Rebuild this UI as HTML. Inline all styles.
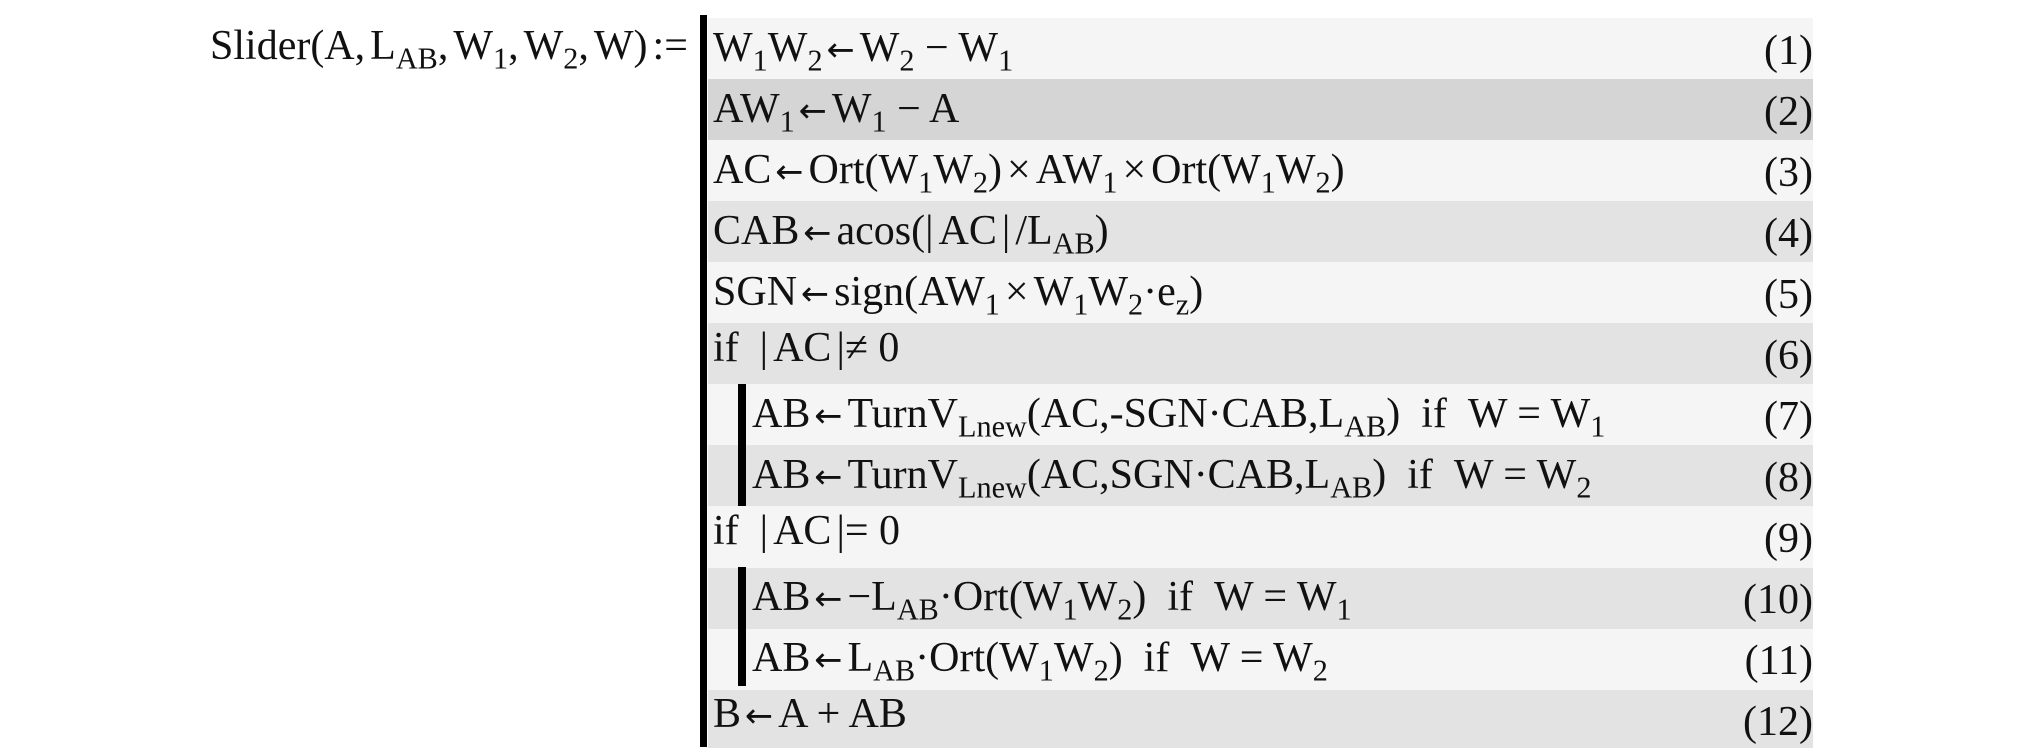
<!DOCTYPE html>
<html><head><meta charset="utf-8"><style>
body{margin:0;width:2020px;height:747px;background:#fff;position:relative;overflow:hidden;font-family:"Liberation Serif","DejaVu Serif",serif;color:#111}
.r{position:absolute;left:708px;width:1105px;height:62px}
.t{position:absolute;font-size:42px;line-height:61px;white-space:nowrap}
.n{position:absolute;right:207px;font-size:42px;line-height:61px;white-space:nowrap}
sub{font-size:0.72em;vertical-align:-0.32em;line-height:0}
.a{font-family:"DejaVu Sans",sans-serif;font-size:0.8em;margin:0 5px 0 4px}
.s{margin-right:5px}
.bar{position:absolute;background:#000}
</style></head><body>
<div class="r" style="top:17.6px;background:#f5f5f5"></div>
<div class="r" style="top:78.7px;background:#d5d5d5"></div>
<div class="r" style="top:139.8px;background:#f5f5f5"></div>
<div class="r" style="top:200.9px;background:#e3e3e3"></div>
<div class="r" style="top:262px;background:#f5f5f5"></div>
<div class="r" style="top:323.1px;background:#e3e3e3"></div>
<div class="r" style="top:384.2px;background:#f5f5f5"></div>
<div class="r" style="top:445.3px;background:#e3e3e3"></div>
<div class="r" style="top:506.4px;background:#f5f5f5"></div>
<div class="r" style="top:567.5px;background:#e3e3e3"></div>
<div class="r" style="top:628.6px;background:#f5f5f5"></div>
<div class="r" style="top:689.7px;background:#e3e3e3;height:58px"></div>

<div class="bar" style="left:700px;top:15px;width:7px;height:732px"></div>
<div class="bar" style="left:738px;top:384px;width:8px;height:122px"></div>
<div class="bar" style="left:738px;top:567px;width:8px;height:119px"></div>

<div class="t" style="left:210px;top:16px">Slider(A,<span class="s"></span>L<sub>AB</sub>,<span class="s"></span>W<sub>1</sub>,<span class="s"></span>W<sub>2</sub>,<span class="s"></span>W)<span class="s"></span>:=</div>

<div class="t" style="left:713px;top:18px">W<sub>1</sub>W<sub>2</sub><span class="a">←</span>W<sub>2</sub> − W<sub>1</sub></div>
<div class="t" style="left:713px;top:79px">AW<sub>1</sub><span class="a">←</span>W<sub>1</sub> − A</div>
<div class="t" style="left:713px;top:140px">AC<span class="a">←</span>Ort(W<sub>1</sub>W<sub>2</sub>)<span class="s"></span>×<span class="s"></span>AW<sub>1</sub><span class="s"></span>×<span class="s"></span>Ort(W<sub>1</sub>W<sub>2</sub>)</div>
<div class="t" style="left:713px;top:201px">CAB<span class="a">←</span>acos(|<span class="s"></span>AC<span class="s"></span>|<span class="s"></span>/L<sub>AB</sub>)</div>
<div class="t" style="left:713px;top:262px">SGN<span class="a">←</span>sign(AW<sub>1</sub><span class="s"></span>×<span class="s"></span>W<sub>1</sub>W<sub>2</sub>·e<sub>z</sub>)</div>
<div class="t" style="left:713px;top:318px">if &nbsp;|<span class="s"></span>AC<span class="s"></span>|≠ 0</div>
<div class="t" style="left:752px;top:384px">AB<span class="a">←</span>TurnV<sub>Lnew</sub>(AC,-SGN·CAB,L<sub>AB</sub>) &nbsp;if &nbsp;W = W<sub>1</sub></div>
<div class="t" style="left:752px;top:445px">AB<span class="a">←</span>TurnV<sub>Lnew</sub>(AC,SGN·CAB,L<sub>AB</sub>) &nbsp;if &nbsp;W = W<sub>2</sub></div>
<div class="t" style="left:713px;top:501px">if &nbsp;|<span class="s"></span>AC<span class="s"></span>|= 0</div>
<div class="t" style="left:752px;top:567px">AB<span class="a">←</span>−L<sub>AB</sub>·Ort(W<sub>1</sub>W<sub>2</sub>) &nbsp;if &nbsp;W = W<sub>1</sub></div>
<div class="t" style="left:752px;top:628px">AB<span class="a">←</span>L<sub>AB</sub>·Ort(W<sub>1</sub>W<sub>2</sub>) &nbsp;if &nbsp;W = W<sub>2</sub></div>
<div class="t" style="left:713px;top:684px">B<span class="a">←</span>A + AB</div>

<div class="n" style="top:21px">(1)</div>
<div class="n" style="top:82px">(2)</div>
<div class="n" style="top:143px">(3)</div>
<div class="n" style="top:204px">(4)</div>
<div class="n" style="top:265px">(5)</div>
<div class="n" style="top:326px">(6)</div>
<div class="n" style="top:387px">(7)</div>
<div class="n" style="top:448px">(8)</div>
<div class="n" style="top:509px">(9)</div>
<div class="n" style="top:570px">(10)</div>
<div class="n" style="top:631px">(11)</div>
<div class="n" style="top:692px">(12)</div>
</body></html>
